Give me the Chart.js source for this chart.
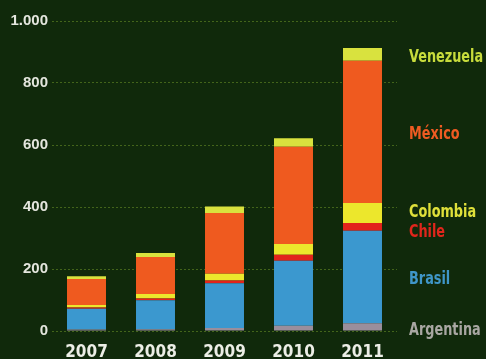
<!DOCTYPE html>
<html>
<head>
<meta charset="utf-8">
<script src="https://cdn.jsdelivr.net/npm/chart.js@4/dist/chart.umd.min.js"></script>
<style>
  html, body { margin: 0; padding: 0; background: #10290b; }
  #wrap { width: 486px; height: 359px; position: relative; }
</style>
</head>
<body>
<div id="wrap"><canvas id="c" width="486" height="359"></canvas></div>
<script>
// Years on the category axis
const years = ['2007', '2008', '2009', '2010', '2011'];

// Stacked series, bottom to top
const argentina = [5, 6, 10, 17, 25];
const brasil    = [67, 93, 144, 210, 298];
const chile     = [4, 6, 9, 19, 25];
const colombia  = [8, 14, 22, 35, 65];
const mexico    = [84, 120, 196, 313, 459];
const venezuela = [9, 13, 21, 28, 41];

// Value-axis tick values and their printed labels
const yTickValues = [0, 200, 400, 600, 800, 1000];
const yTickLabels = ['0', '200', '400', '600', '800', '1.000'];

const series = [
  { name: 'Argentina', data: argentina, bar: '#9a8e9c', text: '#a9a7a3' },
  { name: 'Brasil',    data: brasil,    bar: '#3b98cf', text: '#3f96c8' },
  { name: 'Chile',     data: chile,     bar: '#e2231c', text: '#e0261c' },
  { name: 'Colombia',  data: colombia,  bar: '#ece72c', text: '#dfe03a' },
  { name: 'México',    data: mexico,    bar: '#ef5a1f', text: '#ee5b22' },
  { name: 'Venezuela', data: venezuela, bar: '#d9e23e', text: '#c7db3c' }
];

const narrow = "'Liberation Sans Narrow', 'DejaVu Sans Condensed', sans-serif";

// Paints the dark green backdrop behind everything
const backdrop = {
  id: 'backdrop',
  beforeDraw(chart) {
    const ctx = chart.ctx;
    ctx.save();
    ctx.fillStyle = '#10290b';
    ctx.fillRect(0, 0, chart.width, chart.height);
    ctx.restore();
  }
};

// Writes each series name to the right of the last column,
// beside the middle of its segment, pushing apart names that collide
const sideLabels = {
  id: 'sideLabels',
  afterDatasetsDraw(chart) {
    const ctx = chart.ctx;
    const y = chart.scales.y;
    const last = years.length - 1;
    let base = 0;
    const items = series.map(s => {
      const v = s.data[last];
      const mid = y.getPixelForValue(base + v / 2);
      base += v;
      return { s, pos: mid };
    });
    const gap = 20;
    for (let pass = 0; pass < 5; pass++) {
      for (let i = 0; i < items.length - 1; i++) {
        const lower = items[i], upper = items[i + 1];
        const d = lower.pos - upper.pos;
        if (d < gap) {
          const shift = (gap - d) / 2;
          lower.pos += shift;
          upper.pos -= shift;
        }
      }
    }
    ctx.save();
    ctx.font = 'bold 17px ' + narrow;
    ctx.textAlign = 'left';
    ctx.textBaseline = 'middle';
    items.forEach(it => {
      ctx.save();
      ctx.translate(chart.chartArea.right + 12, it.pos + 3);
      ctx.scale(0.84, 1);
      ctx.fillStyle = it.s.text;
      ctx.fillText(it.s.name, 0, 0);
      ctx.restore();
    });
    ctx.restore();
  }
};

new Chart(document.getElementById('c'), {
  type: 'bar',
  data: {
    labels: years,
    datasets: series.map(s => ({
      label: s.name,
      data: s.data,
      backgroundColor: s.bar,
      borderWidth: 0,
      barPercentage: 0.565,
      categoryPercentage: 1.0
    }))
  },
  options: {
    responsive: false,
    animation: false,
    devicePixelRatio: 1,
    layout: { padding: { left: 0, right: 89, top: 21, bottom: 0 } },
    plugins: {
      legend: { display: false },
      tooltip: { enabled: false }
    },
    scales: {
      x: {
        stacked: true,
        grid: { display: false, drawTicks: false },
        border: { display: false },
        ticks: {
          color: '#eceee6',
          font: { family: narrow, size: 17, weight: 'bold' },
          padding: 11
        },
        afterFit(scale) { scale.height = 28; }
      },
      y: {
        stacked: true,
        min: 0,
        max: 1000,
        afterBuildTicks(scale) {
          scale.ticks = yTickValues.map(v => ({ value: v }));
        },
        grid: {
          color: 'rgba(110, 150, 40, 0.55)',
          lineWidth: 1,
          drawTicks: false
        },
        border: { display: false, dash: [2, 2] },
        ticks: {
          color: '#e4e6de',
          font: { family: "'Liberation Sans', Arial, sans-serif", size: 15, weight: 'bold' },
          padding: 4,
          callback(value, index) { return yTickLabels[index]; }
        },
        afterFit(scale) { scale.width = 52; }
      }
    }
  },
  plugins: [backdrop, sideLabels]
});
</script>
</body>
</html>
